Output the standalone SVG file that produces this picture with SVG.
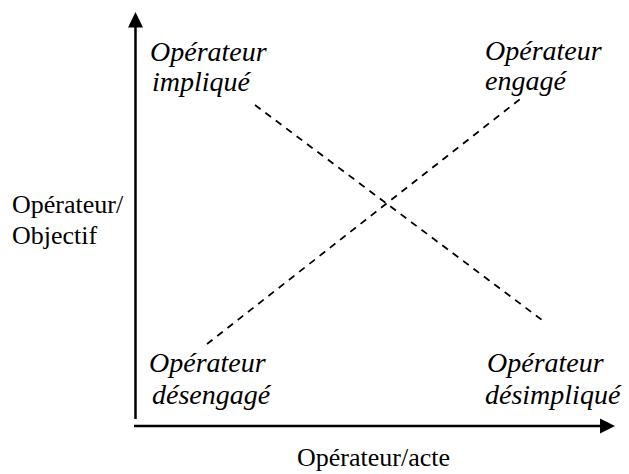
<svg xmlns="http://www.w3.org/2000/svg" width="629" height="474" viewBox="0 0 629 474">
<style>
.ax{stroke:#000;stroke-width:2.5;fill:none}
.dash{stroke:#000;stroke-width:1.8;stroke-dasharray:7 6;fill:none}
.it{font-family:"Liberation Serif",serif;font-style:italic;font-size:28px;fill:#000}
.rg{font-family:"Liberation Serif",serif;font-size:26px;fill:#000}
</style>
<rect width="629" height="474" fill="#fff"/>
<g id="axes">
<line class="ax" x1="135.5" y1="26" x2="135.5" y2="419"/>
<polygon points="135.5,12 128,27.5 143,27.5" fill="#000"/>
<line class="ax" x1="134" y1="426" x2="601" y2="426"/>
<polygon points="615,426 600,418.5 600,433.5" fill="#000"/>
</g>
<g id="connectors">
<line class="dash" x1="255" y1="105" x2="542" y2="320"/>
<line class="dash" x1="207" y1="344" x2="524" y2="96"/>
</g>
<g id="implique"><text class="it" x="150" y="61">Opérateur</text><text class="it" x="152" y="91">impliqué</text></g>
<g id="engage"><text class="it" x="485" y="60">Opérateur</text><text class="it" x="485" y="90">engagé</text></g>
<g id="desengage"><text class="it" x="149" y="372">Opérateur</text><text class="it" x="152" y="404">désengagé</text></g>
<g id="desimplique"><text class="it" x="487" y="372">Opérateur</text><text class="it" x="485" y="404">désimpliqué</text></g>
<g id="yaxis-label"><text class="rg" x="12" y="213">Opérateur/</text><text class="rg" x="12" y="244">Objectif</text></g>
<g id="xaxis-label"><text class="rg" x="297" y="466">Opérateur/acte</text></g>
</svg>
